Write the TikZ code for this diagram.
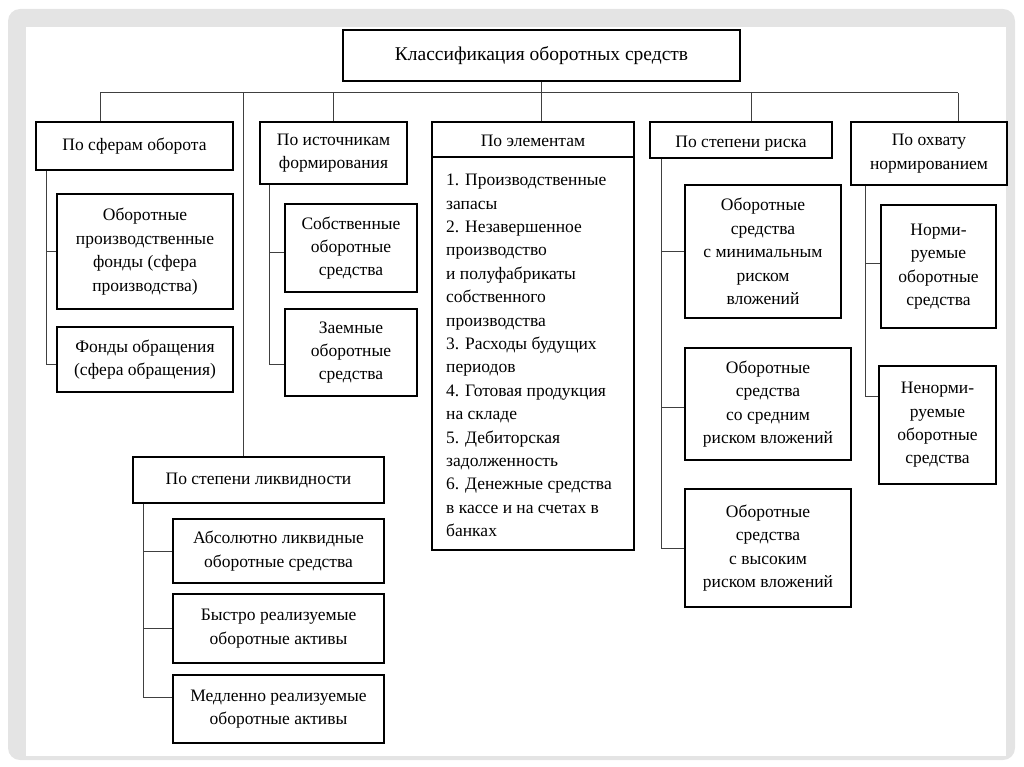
\documentclass[tikz,border=0pt]{standalone}
\usepackage{fontspec}
\setmainfont{Liberation Serif}
\newcommand\boxfont{\fontsize{17.5}{23.4}\selectfont}
\definecolor{framegrey}{HTML}{E4E4E4}
\definecolor{linegrey}{HTML}{404040}
\begin{document}
\begin{tikzpicture}[x=1pt,y=-1pt,
  box/.style={draw=black, line width=1.3pt, fill=white, inner sep=0pt, align=center, font=\boxfont},
  conn/.style={draw=linegrey, line width=1pt}]
\useasboundingbox (0,0) rectangle (1024,767);
% frame
\fill[framegrey, rounded corners=12pt] (8,9) rectangle (1015,760);
\fill[white] (26,27) rectangle (1006,756);
% nodes
\node[box, minimum width=397pt, minimum height=51pt, font=\fontsize{19.5}{23}\selectfont] (top) at (541.5,55.5) {Классификация оборотных средств};
\node[box, minimum width=197pt, minimum height=48pt] (s1) at (134.5,146) {По сферам оборота};
\node[box, minimum width=176pt, minimum height=115pt] (s1a) at (145,251.5) {Оборотные\\производственные\\фонды (сфера\\производства)};
\node[box, minimum width=176pt, minimum height=65pt] (s1b) at (145,359.5) {Фонды обращения\\(сфера обращения)};
\node[box, minimum width=147pt, minimum height=62pt] (s2) at (333.5,153) {По источникам\\формирования};
\node[box, minimum width=132pt, minimum height=88pt] (s2a) at (351,248) {Собственные\\оборотные\\средства};
\node[box, minimum width=132pt, minimum height=87pt] (s2b) at (351,352.5) {Заемные\\оборотные\\средства};
\node[box, minimum width=202pt, minimum height=428pt] (s3) at (533,336) {};
\node[font=\boxfont, inner sep=0pt] (s3h) at (533,141) {По элементам};
\node[font=\boxfont, inner sep=0pt, align=left, anchor=north west] (s3t) at (446,174) {1. Производственные\\запасы\\2. Незавершенное\\производство\\и полуфабрикаты\\собственного\\производства\\3. Расходы будущих\\периодов\\4. Готовая продукция\\на складе\\5. Дебиторская\\задолженность\\6. Денежные средства\\в кассе и на счетах в\\банках};
\node[box, minimum width=182pt, minimum height=36pt, text height=19pt] (s4) at (741,140) {По степени риска};
\node[box, minimum width=156pt, minimum height=133pt] (s4a) at (763,251.5) {Оборотные\\средства\\с минимальным\\риском\\вложений};
\node[box, minimum width=166pt, minimum height=112pt] (s4b) at (768,404) {Оборотные\\средства\\со средним\\риском вложений};
\node[box, minimum width=166pt, minimum height=118pt] (s4c) at (768,548) {Оборотные\\средства\\с высоким\\риском вложений};
\node[box, minimum width=156pt, minimum height=63pt] (s5) at (929,153.5) {По охвату\\нормированием};
\node[box, minimum width=115pt, minimum height=123pt] (s5a) at (938.5,266.5) {Норми-\\руемые\\оборотные\\средства};
\node[box, minimum width=117pt, minimum height=118pt] (s5b) at (937.5,425) {Ненорми-\\руемые\\оборотные\\средства};
\node[box, minimum width=251pt, minimum height=46pt] (s6) at (258.5,480) {По степени ликвидности};
\node[box, minimum width=211pt, minimum height=64pt] (s6a) at (278.5,551) {Абсолютно ликвидные\\оборотные средства};
\node[box, minimum width=211pt, minimum height=69pt] (s6b) at (278.5,628.5) {Быстро реализуемые\\оборотные активы};
\node[box, minimum width=211pt, minimum height=68pt] (s6c) at (278.5,709) {Медленно реализуемые\\оборотные активы};
% divider in s3
\draw[line width=1.3pt] (s3.west |- 0,157) -- (s3.east |- 0,157);
% bus
\coordinate (busL) at (100,93);
\coordinate (busR) at (958,93);
\coordinate (xl) at (243,93);
\draw[conn] (top.south) -- (top.south |- s3.north);
\draw[conn] (busL) -- (busR);
\draw[conn] (busL) -- (busL |- s1.north);
\draw[conn] (xl) -- (xl |- s6.north);
\draw[conn] (s2.north |- busL) -- (s2.north);
\draw[conn] (751,93) coordinate (x4) -- (x4 |- s4.north);
\draw[conn] (busR) -- (busR |- s5.north);
% spines
\coordinate (c1) at (46,0);
\draw[conn] (s1.south -| c1) |- ([yshift=-5pt]s1b.west);
\draw[conn] (c1 |- s1a.west) -- (s1a.west);
\coordinate (c2) at (269,0);
\draw[conn] (s2.south -| c2) |- ([yshift=-12pt]s2b.west);
\draw[conn] ([yshift=-4pt]c2 |- s2a.west) -- ([yshift=-4pt]s2a.west);
\coordinate (c4) at (661,0);
\draw[conn] (s4.south -| c4) |- (s4c.west);
\draw[conn] (c4 |- s4a.west) -- (s4a.west);
\draw[conn] ([yshift=-3pt]c4 |- s4b.west) -- ([yshift=-3pt]s4b.west);
\coordinate (c5) at (865,0);
\draw[conn] (s5.south -| c5) |- ([yshift=29pt]s5b.west);
\draw[conn] ([yshift=3pt]c5 |- s5a.west) -- ([yshift=3pt]s5a.west);
\coordinate (c6) at (143,0);
\draw[conn] (s6.south -| c6) |- ([yshift=12pt]s6c.west);
\draw[conn] (c6 |- s6a.west) -- (s6a.west);
\draw[conn] (c6 |- s6b.west) -- (s6b.west);
\end{tikzpicture}
\end{document}
